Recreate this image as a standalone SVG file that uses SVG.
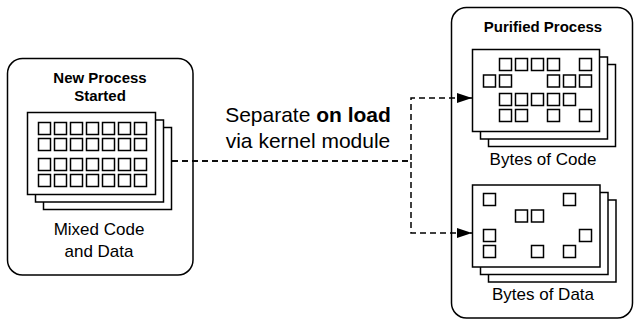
<svg xmlns="http://www.w3.org/2000/svg" width="634" height="320" viewBox="0 0 634 320">
<style>
.box{fill:#fff;stroke:#000;stroke-width:1.5}
.card{fill:#fff;stroke:#000;stroke-width:1.5}
.sq{fill:#fff;stroke:#000;stroke-width:1.5}
.edge{fill:none;stroke:#000;stroke-width:1.5;stroke-dasharray:6 4}
text{font-family:"Liberation Sans",Helvetica,Arial,sans-serif;fill:#000}
.title{font-size:15px;font-weight:bold;text-anchor:middle}
.lbl{font-size:17px;text-anchor:middle}
.note{font-size:21px;text-anchor:middle}
</style>
<defs>
<marker id="arr" markerUnits="userSpaceOnUse" markerWidth="16" markerHeight="12" refX="15" refY="5" orient="auto">
<path d="M0,0 L15,5 L0,10 Z" fill="#000"/>
</marker>
</defs>
<rect width="634" height="320" fill="#fff"/>
<g id="new-process">
<rect class="box" x="7.5" y="58.5" width="185.5" height="216.5" rx="15"/>
<text class="title" x="100" y="83">New Process</text>
<text class="title" x="100" y="101">Started</text>
<rect class="card" x="43.5" y="127.5" width="128" height="82"/>
<rect class="card" x="35.5" y="120" width="128" height="82"/>
<rect class="card" x="27.5" y="112.5" width="128" height="82"/>
<g>
<rect class="sq" x="38.5" y="122.5" width="12" height="12"/><rect class="sq" x="54.5" y="122.5" width="12" height="12"/><rect class="sq" x="70.5" y="122.5" width="12" height="12"/><rect class="sq" x="86.5" y="122.5" width="12" height="12"/><rect class="sq" x="102.5" y="122.5" width="12" height="12"/><rect class="sq" x="118.5" y="122.5" width="12" height="12"/><rect class="sq" x="134.5" y="122.5" width="12" height="12"/>
<rect class="sq" x="38.5" y="138.5" width="12" height="12"/><rect class="sq" x="54.5" y="138.5" width="12" height="12"/><rect class="sq" x="70.5" y="138.5" width="12" height="12"/><rect class="sq" x="86.5" y="138.5" width="12" height="12"/><rect class="sq" x="102.5" y="138.5" width="12" height="12"/><rect class="sq" x="118.5" y="138.5" width="12" height="12"/><rect class="sq" x="134.5" y="138.5" width="12" height="12"/>
<rect class="sq" x="38.5" y="158.5" width="12" height="12"/><rect class="sq" x="54.5" y="158.5" width="12" height="12"/><rect class="sq" x="70.5" y="158.5" width="12" height="12"/><rect class="sq" x="86.5" y="158.5" width="12" height="12"/><rect class="sq" x="102.5" y="158.5" width="12" height="12"/><rect class="sq" x="118.5" y="158.5" width="12" height="12"/><rect class="sq" x="134.5" y="158.5" width="12" height="12"/>
<rect class="sq" x="38.5" y="174.5" width="12" height="12"/><rect class="sq" x="54.5" y="174.5" width="12" height="12"/><rect class="sq" x="70.5" y="174.5" width="12" height="12"/><rect class="sq" x="86.5" y="174.5" width="12" height="12"/><rect class="sq" x="102.5" y="174.5" width="12" height="12"/><rect class="sq" x="118.5" y="174.5" width="12" height="12"/><rect class="sq" x="134.5" y="174.5" width="12" height="12"/>
</g>
<text class="lbl" x="99" y="235">Mixed Code</text>
<text class="lbl" x="99" y="257">and Data</text>
</g>
<g id="purified-process">
<rect class="box" x="451.5" y="7.5" width="181" height="310.5" rx="15"/>
<text class="title" x="543" y="31.5">Purified Process</text>
</g>
<g id="bytes-of-code">
<rect class="card" x="488.5" y="64.5" width="127" height="82"/>
<rect class="card" x="480.5" y="57" width="127" height="82"/>
<rect class="card" x="472.5" y="49.5" width="127" height="82"/>
<rect class="sq" x="499.5" y="58.5" width="12" height="12"/><rect class="sq" x="515.5" y="58.5" width="12" height="12"/><rect class="sq" x="531.5" y="58.5" width="12" height="12"/><rect class="sq" x="547.5" y="58.5" width="12" height="12"/><rect class="sq" x="579.5" y="58.5" width="12" height="12"/>
<rect class="sq" x="483.5" y="75" width="12" height="12"/><rect class="sq" x="499.5" y="75" width="12" height="12"/><rect class="sq" x="547.5" y="75" width="12" height="12"/><rect class="sq" x="563.5" y="75" width="12" height="12"/><rect class="sq" x="579.5" y="75" width="12" height="12"/>
<rect class="sq" x="499.5" y="93.5" width="12" height="12"/><rect class="sq" x="515.5" y="93.5" width="12" height="12"/><rect class="sq" x="531.5" y="93.5" width="12" height="12"/><rect class="sq" x="547.5" y="93.5" width="12" height="12"/><rect class="sq" x="563.5" y="93.5" width="12" height="12"/>
<rect class="sq" x="499.5" y="109.5" width="12" height="12"/><rect class="sq" x="515.5" y="109.5" width="12" height="12"/><rect class="sq" x="547.5" y="109.5" width="12" height="12"/><rect class="sq" x="579.5" y="109.5" width="12" height="12"/>
<text class="lbl" x="543" y="165">Bytes of Code</text>
</g>
<g id="bytes-of-data">
<rect class="card" x="488.5" y="200" width="127.5" height="82"/>
<rect class="card" x="480.5" y="192.5" width="127.5" height="82"/>
<rect class="card" x="472.5" y="185" width="127.5" height="82"/>
<rect class="sq" x="483.5" y="193.5" width="12" height="12"/><rect class="sq" x="563.5" y="193.5" width="12" height="12"/>
<rect class="sq" x="515.5" y="210" width="12" height="12"/><rect class="sq" x="531.5" y="210" width="12" height="12"/>
<rect class="sq" x="483.5" y="229.5" width="12" height="12"/><rect class="sq" x="579.5" y="229.5" width="12" height="12"/>
<rect class="sq" x="483.5" y="245.5" width="12" height="12"/><rect class="sq" x="531.5" y="245.5" width="12" height="12"/><rect class="sq" x="563.5" y="245.5" width="12" height="12"/>
<text class="lbl" x="543" y="300">Bytes of Data</text>
</g>
<g id="connectors">
<path class="edge" d="M172,161 H411 V98 H472" marker-end="url(#arr)"/>
<path class="edge" d="M172,161 H411 V233 H472" marker-end="url(#arr)"/>
<text class="note" x="308" y="122">Separate <tspan font-weight="bold">on load</tspan></text>
<text class="note" x="308" y="148">via kernel module</text>
</g>
</svg>
